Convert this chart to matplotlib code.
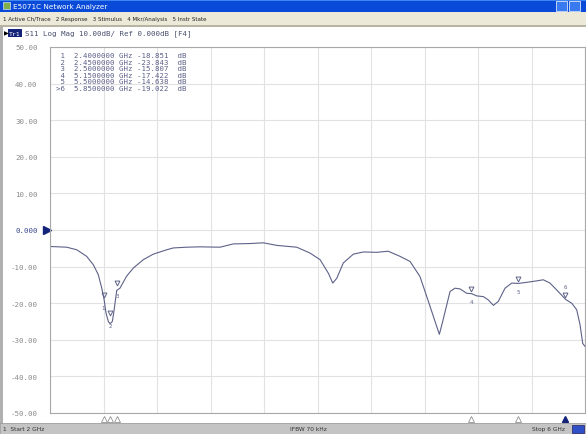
import numpy as np
import matplotlib
matplotlib.use('Agg')
import matplotlib.pyplot as plt
from matplotlib.patches import Rectangle
from matplotlib.transforms import blended_transform_factory

# S11 trace (GHz, dB)
freq_ghz = [2.000, 2.125, 2.200, 2.274, 2.324, 2.361, 2.387, 2.404, 2.419, 2.436,
            2.449, 2.466, 2.479, 2.486, 2.499, 2.523, 2.573, 2.623, 2.698, 2.772,
            2.873, 2.922, 3.022, 3.122, 3.271, 3.371, 3.496, 3.595, 3.695, 3.845,
            3.944, 4.019, 4.081, 4.114, 4.144, 4.193, 4.268, 4.343, 4.443, 4.529,
            4.617, 4.692, 4.766, 4.829, 4.879, 4.911, 4.936, 4.966, 4.991, 5.028,
            5.066, 5.116, 5.153, 5.190, 5.240, 5.277, 5.315, 5.352, 5.402, 5.452,
            5.501, 5.564, 5.639, 5.688, 5.738, 5.789, 5.856, 5.901, 5.938, 5.963,
            5.983, 6.000]
s11_db = [-4.5, -4.7, -5.4, -7.2, -9.5, -12.2, -15.9, -18.9, -22.7, -25.0,
          -25.6, -25.0, -22.0, -20.0, -16.5, -15.9, -12.6, -10.4, -8.1, -6.6,
          -5.4, -4.9, -4.7, -4.6, -4.7, -3.8, -3.7, -3.5, -4.2, -4.7,
          -6.3, -8.1, -11.8, -14.5, -13.2, -9.0, -6.6, -6.0, -6.1, -5.8,
          -7.2, -8.6, -12.7, -19.5, -25.0, -28.5, -25.0, -20.5, -16.8, -15.9,
          -16.1, -17.3, -17.4, -18.0, -18.2, -19.1, -20.6, -19.5, -15.9, -14.5,
          -14.6, -14.3, -13.9, -13.6, -14.5, -16.4, -19.0, -20.0, -21.8, -25.9,
          -31.0, -31.8]

# marker table
marker_num = ['1', '2', '3', '4', '5', '6']
marker_freq = [2.40, 2.45, 2.50, 5.15, 5.50, 5.85]
marker_db = [-18.851, -23.843, -15.807, -17.422, -14.638, -19.022]
active_marker = '6'

y_ticks = [50, 40, 30, 20, 10, 0, -10, -20, -30, -40, -50]
y_tick_labels = ['50.00', '40.00', '30.00', '20.00', '10.00', '0.000',
                 '-10.00', '-20.00', '-30.00', '-40.00', '-50.00']

W, H = 586, 435
trace_col = '#5d6288'
label_col = '#8c8c8c'
navy = '#14237a'
mono = 'DejaVu Sans Mono'

fig = plt.figure(figsize=(W / 100, H / 100), dpi=100)
fig.patch.set_facecolor('white')


def px_rect(x0, y0, x1, y1, **kw):
    # rectangle in screen pixels (y from the top)
    fig.patches.append(Rectangle((x0 / W, 1 - y1 / H), (x1 - x0) / W, (y1 - y0) / H,
                                 transform=fig.transFigure, **kw))


def px_text(x, y, s, **kw):
    fig.text(x / W, 1 - y / H, s, **kw)


# window chrome
px_rect(0, 0, W, 13, facecolor='#0a4ad8', edgecolor='none')
px_rect(0, 0, W, 2, facecolor='#3f86f0', edgecolor='none')
px_rect(3, 3, 10, 10, facecolor='#7fb04a', edgecolor='#d0e0ff', linewidth=0.5)
px_text(13, 6.8, 'E5071C Network Analyzer', color='white', fontsize=5.2, va='center')
px_rect(556, 2, 567, 12, facecolor='#3a7af0', edgecolor='white', linewidth=0.5)
px_rect(569, 2, 580, 12, facecolor='#3a7af0', edgecolor='white', linewidth=0.5)
px_rect(0, 13, W, 26, facecolor='#ece9d8', edgecolor='none')
px_text(3, 19.5, '1 Active Ch/Trace   2 Response   3 Stimulus   4 Mkr/Analysis   5 Instr State',
        color='#222222', fontsize=4.0, va='center')
px_rect(0, 26, W, 27.5, facecolor='#b8b4a4', edgecolor='none')
px_rect(0, 27.5, 2.5, 425, facecolor='#b0b0b0', edgecolor='none')

# trace header
fig.text(3.5 / W, 1 - 34 / H, '\u25b6', color='black', fontsize=4.5, va='center')
px_rect(8, 30, 22, 38, facecolor=navy, edgecolor='none')
px_text(15, 34, 'Tr1', color='white', fontsize=4.6, va='center', ha='center', family=mono)
px_text(25, 34, 'S11 Log Mag 10.00dB/ Ref 0.000dB [F4]', color='#4a5070',
        fontsize=5.4, va='center', family=mono)

# status bar
px_rect(0, 424, W, H, facecolor='#c4c4c4', edgecolor='#909090', linewidth=0.5)
px_text(3, 430, '1  Start 2 GHz', color='#333333', fontsize=4.2, va='center')
px_text(290, 430, 'IFBW 70 kHz', color='#333333', fontsize=4.2, va='center')
px_text(532, 430, 'Stop 6 GHz', color='#333333', fontsize=4.2, va='center')
px_rect(572, 425.5, 584, 434, facecolor='#3050c8', edgecolor='#202060', linewidth=0.5)

# plot area
ax = fig.add_axes([50 / W, 1 - 414 / H, 535 / W, 366 / H])
ax.plot(freq_ghz, s11_db, color=trace_col, linewidth=0.8)
ax.set_xlim(2, 6)
ax.set_ylim(-50, 50)
ax.set_xticks(np.linspace(2, 6, 11))
ax.set_xticklabels([])
ax.set_yticks(y_ticks)
ax.set_yticklabels(y_tick_labels, family=mono, fontsize=5.4, color=label_col)
ax.get_yticklabels()[5].set_color('#3a4a90')
ax.tick_params(length=0, pad=9)
ax.grid(True, color='#e2e2e2', linewidth=0.8)
for sp in ax.spines.values():
    sp.set_color('#a8a8a8')
    sp.set_linewidth(0.8)

# reference level arrow
ytr = ax.get_yaxis_transform()
ax.plot([-0.006], [0], marker='>', markersize=5.5, color=navy, transform=ytr, clip_on=False)

# markers on trace
for n, f, d in zip(marker_num, marker_freq, marker_db):
    ax.plot([f], [d + 1.2], marker='v', markersize=3.5, markerfacecolor='none',
            markeredgecolor=trace_col, markeredgewidth=0.7)
    off = 3.5 if n == '6' else -2.2
    ax.text(f, d + off, n, color=trace_col, fontsize=4, ha='center', va='center')

# stimulus markers below the grid
xtr = blended_transform_factory(ax.transData, ax.transAxes)
for n, f in zip(marker_num, marker_freq):
    if n == active_marker:
        ax.plot([f], [-0.017], marker='^', markersize=5, color=navy,
                transform=xtr, clip_on=False)
    else:
        ax.plot([f], [-0.017], marker='^', markersize=5, markerfacecolor='white',
                markeredgecolor='#909090', markeredgewidth=0.6, transform=xtr, clip_on=False)

# marker table
rows = []
for n, f, d in zip(marker_num, marker_freq, marker_db):
    tag = '>' + n if n == active_marker else ' ' + n
    rows.append('%s  %.7f GHz %.3f  dB' % (tag, f, d))
ax.text(0.012, 0.985, '\n'.join(rows), transform=ax.transAxes, family=mono,
        fontsize=5.3, color='#5a6088', va='top', ha='left', linespacing=1.1)

fig.savefig('out.png', dpi=100)
